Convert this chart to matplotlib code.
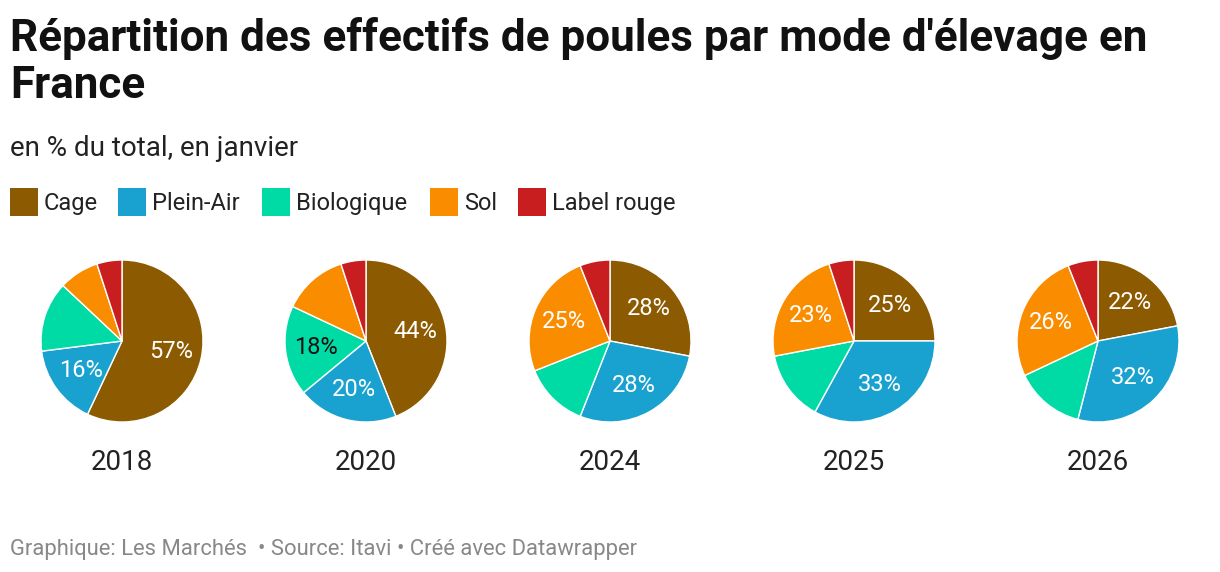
import matplotlib
matplotlib.use("Agg")
import matplotlib.pyplot as plt
from matplotlib.patches import Rectangle
import numpy as np


# =========================
# DATA
# =========================
YEARS = ["2018", "2020", "2024", "2025", "2026"]
CATEGORIES = ["Cage", "Plein-Air", "Biologique", "Sol", "Label rouge"]
COLORS = ["#8c5a00", "#19a2cf", "#00dba6", "#fa8c00", "#c91e20"]

CAGE = [57, 44, 28, 25, 22]
PLEIN_AIR = [16, 20, 28, 33, 32]
BIOLOGIQUE = [14, 18, 13, 14, 14]
SOL = [8, 13, 25, 23, 26]
LABEL_ROUGE = [5, 5, 6, 5, 6]

LABEL_MIN = 15  # slices below this get no label


# =========================
# FIGURE
# =========================
W, H = 1220, 572
plt.rcParams["font.family"] = ["Roboto", "DejaVu Sans"]
fig = plt.figure(figsize=(W / 100, H / 100), dpi=100)


def px(x, y):
    """pixel coords (top-left origin) -> figure fraction"""
    return x / W, 1 - y / H


fig.text(*px(10, 51), "Répartition des effectifs de poules par mode d'élevage en",
         fontsize=31.7, fontweight="bold", color="#111111", va="baseline")
fig.text(*px(10, 98), "France",
         fontsize=31.7, fontweight="bold", color="#111111", va="baseline")
fig.text(*px(10, 156), "en % du total, en janvier",
         fontsize=20, color="#222222", va="baseline")

# legend
leg_x = [10, 118, 262, 430, 518]
for x, name, col in zip(leg_x, CATEGORIES, COLORS):
    fx, fy = px(x, 216)
    fig.add_artist(Rectangle((fx, fy), 28 / W, 28 / H, transform=fig.transFigure,
                             facecolor=col, edgecolor="none"))
    fig.text(*px(x + 34, 210), name, fontsize=17, color="#222222", va="baseline")

# pies
centers_x = [122, 366, 610, 854, 1098]
cy = 341
r = 81
box = 100
for i, year in enumerate(YEARS):
    vals = [CAGE[i], PLEIN_AIR[i], BIOLOGIQUE[i], SOL[i], LABEL_ROUGE[i]]
    cx = centers_x[i]
    ax = fig.add_axes([(cx - box) / W, 1 - (cy + box) / H, 2 * box / W, 2 * box / H])
    ax.pie(vals, colors=COLORS, startangle=90, counterclock=False, radius=1,
           wedgeprops=dict(edgecolor="white", linewidth=1))
    lim = box / r
    ax.set_xlim(-lim, lim)
    ax.set_ylim(-lim, lim)
    ax.set_aspect("equal")
    ax.axis("off")

    # labels on the bigger slices
    cum = np.cumsum([0] + vals)
    total = sum(vals)
    for k, v in enumerate(vals):
        if v < LABEL_MIN:
            continue
        mid = (cum[k] + cum[k + 1]) / 2 / total * 2 * np.pi
        rr = 0.62
        tx, ty = rr * np.sin(mid), rr * np.cos(mid)
        tc = "#111111" if CATEGORIES[k] == "Biologique" else "white"
        ax.text(tx, ty, f"{v}%", ha="center", va="center", fontsize=17, color=tc)

    fig.text(*px(cx, 470), year, ha="center", va="baseline", fontsize=20, color="#222222")

fig.text(*px(10, 555), "Graphique: Les Marchés  \u2022 Source: Itavi \u2022 Créé avec Datawrapper",
         fontsize=15.8, color="#888888", va="baseline")

fig.savefig("out.png", dpi=100)
